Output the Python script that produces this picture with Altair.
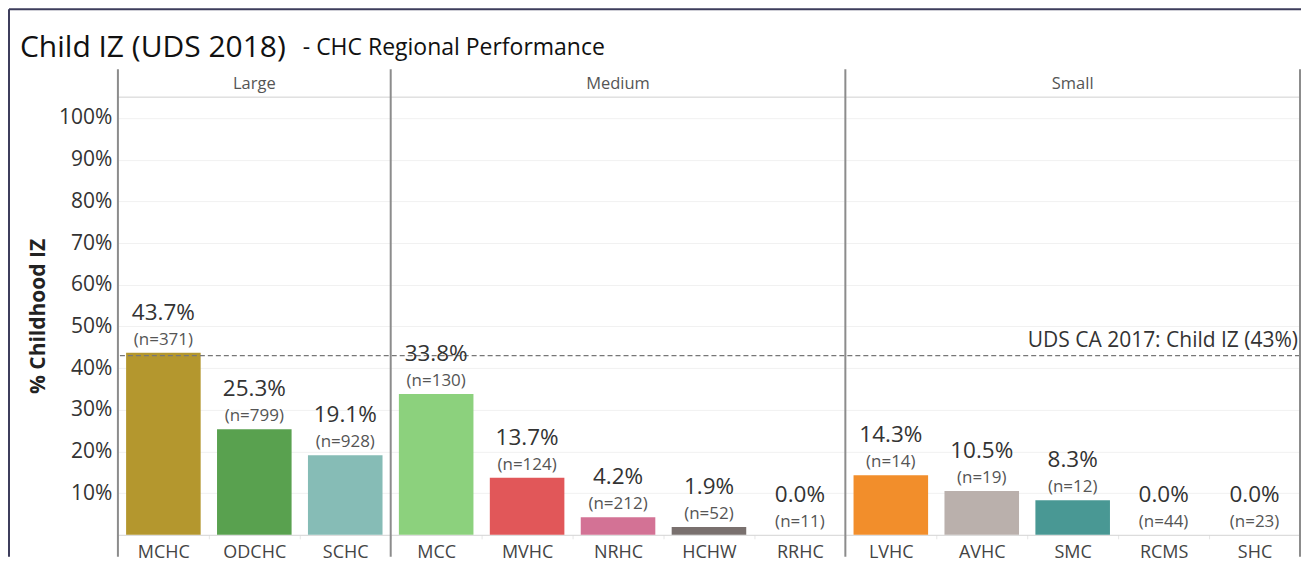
import altair as alt
import pandas as pd

cats = ["MCHC", "ODCHC", "SCHC", "MCC", "MVHC", "NRHC", "HCHW", "RRHC",
        "LVHC", "AVHC", "SMC", "RCMS", "SHC"]
groups = ["Large"] * 3 + ["Medium"] * 5 + ["Small"] * 5
values = [43.7, 25.3, 19.1, 33.8, 13.7, 4.2, 1.9, 0.0, 14.3, 10.5, 8.3, 0.0, 0.0]
ns = [371, 799, 928, 130, 124, 212, 52, 11, 14, 19, 12, 44, 23]
colors = ["#b4972e", "#59a14f", "#86bcb6", "#8cd17d", "#e15759", "#d37295",
          "#79706e", "#cccccc", "#f28e2b", "#bab0ac", "#499894", "#cccccc", "#cccccc"]

group_names = ["Large", "Medium", "Small"]
group_first = ["MCHC", "MCC", "LVHC"]
group_mid = ["ODCHC", "NRHC", "SMC"]
last_cat = ["SHC"]

ref_value = 43
ref_label = "UDS CA 2017: Child IZ (43%)"
y_ticks = [10, 20, 30, 40, 50, 60, 70, 80, 90, 100]

W = 1183
H = 438

df = pd.DataFrame({"cat": cats, "group": groups, "value": values, "n": ns})
df["val_label"] = [f"{v:.1f}%" for v in values]
df["n_label"] = [f"(n={n})" for n in ns]

one = pd.DataFrame({"a": [0]})

x_axis = alt.Axis(title=None, labelAngle=0, labelFontSize=18, labelColor="#444444",
                  labelPadding=5, domainColor="#d4d4d4", tickBand="extent",
                  tickColor="#e6e6e6", tickSize=4, grid=False)
x_scale = alt.Scale(domain=cats, paddingInner=0, paddingOuter=0)

y_enc = alt.Y("value:Q",
              scale=alt.Scale(domain=[0, 105], nice=False, zero=True),
              axis=alt.Axis(values=y_ticks, labelExpr="datum.value + '%'",
                            title="% Childhood IZ", titleFontSize=21,
                            titleFontWeight="bold", titleColor="#222222",
                            titlePadding=10, labelFontSize=21, labelColor="#333333",
                            labelPadding=6, grid=True, gridColor="#f1f1f1",
                            domain=False, ticks=False))

base = alt.Chart(df)

bars = base.mark_bar(width=alt.RelativeBandSize(0.82)).encode(
    x=alt.X("cat:N", sort=cats, scale=x_scale, axis=x_axis),
    y=y_enc,
    color=alt.Color("cat:N", scale=alt.Scale(domain=cats, range=colors), legend=None),
)

val_text = base.mark_text(fontSize=22.5, color="#333333", baseline="alphabetic", dy=-33).encode(
    x=alt.X("cat:N", sort=cats), y="value:Q", text="val_label:N")

n_text = base.mark_text(fontSize=17, color="#555555", baseline="alphabetic", dy=-8).encode(
    x=alt.X("cat:N", sort=cats), y="value:Q", text="n_label:N")

ref_rule = alt.Chart(one).mark_rule(color="#777777", strokeDash=[5, 3], strokeWidth=1.3).encode(
    y=alt.datum(ref_value))

ref_text = alt.Chart(one).mark_text(fontSize=21, color="#333333", align="right",
                                    baseline="alphabetic", dy=-9).encode(
    y=alt.datum(ref_value), x=alt.value(W - 2), text=alt.value(ref_label))

seps_df = pd.DataFrame({"cat": group_first})
seps = alt.Chart(seps_df).mark_rule(color="#8c8c8c", strokeWidth=2).encode(
    x=alt.X("cat:N", sort=cats, bandPosition=0), y=alt.value(-28), y2=alt.value(460))
seps_end = alt.Chart(pd.DataFrame({"cat": last_cat})).mark_rule(color="#8c8c8c", strokeWidth=2).encode(
    x=alt.X("cat:N", sort=cats, bandPosition=1), y=alt.value(-28), y2=alt.value(460))

hdr_df = pd.DataFrame({"cat": group_mid, "group": group_names})
headers = alt.Chart(hdr_df).mark_text(fontSize=16.5, color="#555555", baseline="middle").encode(
    x=alt.X("cat:N", sort=cats), y=alt.value(-13), text="group:N")

hdr_line = alt.Chart(one).mark_rule(color="#d0d0d0", strokeWidth=1).encode(
    y=alt.datum(105), x=alt.value(0), x2=alt.value(W))

title1 = alt.Chart(one).mark_text(fontSize=30, color="#111111", align="left",
                                  baseline="alphabetic").encode(
    x=alt.value(-98), y=alt.value(-40), text=alt.value("Child IZ (UDS 2018)"))
title2 = alt.Chart(one).mark_text(fontSize=23, color="#111111", align="left",
                                  baseline="alphabetic").encode(
    x=alt.value(185), y=alt.value(-42), text=alt.value("- CHC Regional Performance"))

frame_top = alt.Chart(one).mark_rule(color="#3d3d5c", strokeWidth=2).encode(
    x=alt.value(-109), x2=alt.value(W + 1), y=alt.value(-88))
frame_left = alt.Chart(one).mark_rule(color="#3d3d5c", strokeWidth=2).encode(
    x=alt.value(-109), y=alt.value(-88), y2=alt.value(460))

chart = alt.layer(
    bars, hdr_line, ref_rule, val_text, n_text, ref_text, seps, seps_end, headers,
    title1, title2, frame_top, frame_left
).properties(
    width=W, height=H, padding=0
).configure(
    font="Open Sans"
).configure_view(
    stroke=None
)

chart.save("out.html", embed_options={"renderer": "svg", "actions": False})
